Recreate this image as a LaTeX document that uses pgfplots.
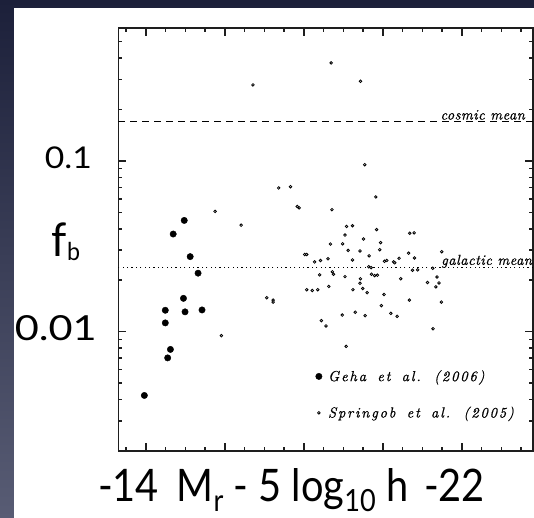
\documentclass[border=0pt]{standalone}
\usepackage{fontspec}
\usepackage{graphicx}
\usepackage{pgfplots}
\usepackage{pgfplotstable}
\pgfplotsset{compat=1.18}
\newfontfamily\gill{Lato}
\newfontfamily\smit{lmroman10-italic.otf}[LetterSpace=12,WordSpace=1.6,FakeBold=0.6]
\newfontfamily\smlab{lmroman10-italic.otf}[LetterSpace=3,FakeBold=0.6]
\definecolor{bgtop}{RGB}{28,32,58}
\definecolor{bgbot}{RGB}{88,92,116}
\definecolor{framecol}{RGB}{30,30,30}

\pgfplotstableread{
x y
-14.97 0.0448
-14.69 0.0373
-15.12 0.0275
-15.32 0.0220
-14.95 0.01567
-14.49 0.01334
-14.99 0.01306
-15.42 0.0134
-14.49 0.01125
-14.62 0.00787
-14.55 0.00702
-13.96 0.00423
}\geha

\pgfplotstableread{
x y
-16.71 0.2786
-18.69 0.3747
-19.43 0.2926
-19.54 0.0950
-17.36 0.0694
-17.66 0.0706
-17.83 0.0541
-17.88 0.0531
-19.82 0.0615
-18.71 0.0518
-15.75 0.0506
-16.41 0.0420
-19.08 0.0413
-19.23 0.0417
-19.84 0.0396
-19.04 0.0368
-19.51 0.0349
-18.67 0.0326
-18.98 0.0327
-19.94 0.0332
-19.12 0.0299
-19.42 0.0297
-19.92 0.0302
-18.02 0.0283
-18.07 0.0283
-19.65 0.0278
-18.61 0.0267
-18.42 0.0261
-18.27 0.0256
-19.23 0.0263
-20.04 0.0258
-20.10 0.0261
-20.27 0.0256
-20.30 0.0253
-20.41 0.0269
-19.64 0.0240
-19.70 0.0237
-18.40 0.0215
-18.72 0.0224
-18.75 0.0217
-19.04 0.0210
-19.43 0.0204
-19.71 0.0217
-19.79 0.0213
-19.86 0.0214
-19.42 0.0192
-20.45 0.0204
-18.63 0.0184
-20.68 0.0377
-20.79 0.0379
-20.65 0.0288
-20.80 0.0270
-20.75 0.0229
-20.88 0.0230
-21.26 0.0235
-21.49 0.0294
-21.13 0.0194
-21.37 0.0209
-21.42 0.0193
-21.34 0.0183
-18.07 0.0176
-18.21 0.0174
-18.35 0.0176
-19.24 0.0176
-19.49 0.0179
-19.60 0.0169
-20.03 0.0165
-20.67 0.0153
-21.48 0.0149
-19.96 0.0142
-18.97 0.0125
-19.30 0.0130
-19.55 0.0124
-20.20 0.0128
-20.36 0.0123
-18.44 0.0116
-18.56 0.0108
-21.27 0.0104
-19.07 0.0082
-15.91 0.00947
-17.06 0.0158
-17.22 0.0153
-17.22 0.0149
}\springob

\begin{document}
\begin{tikzpicture}
\useasboundingbox (0,0) rectangle (534bp,518bp);
\shade[top color=bgtop, bottom color=bgbot] (0,0) rectangle (534bp,518bp);
\fill[white] (14bp,0) rectangle (534bp,510bp);
\begin{axis}[
  at={(118.3bp,67bp)}, anchor=south west,
  scale only axis, width=414.7bp, height=423bp,
  xmin=-23.8, xmax=-13.3, x dir=reverse,
  ymode=log, ymin=0.002, ymax=0.6,
  xtick={-22,-20,-18,-16,-14},
  minor xtick={-23.5,-23,-22.5,-21.5,-21,-20.5,-19.5,-19,-18.5,-17.5,-17,-16.5,-15.5,-15,-14.5,-13.5},
  xticklabels={},
  ytick={0.01,0.1},
  minor ytick={0.002,0.003,0.004,0.005,0.006,0.007,0.008,0.009,0.02,0.03,0.04,0.05,0.06,0.07,0.08,0.09,0.2,0.3,0.4,0.5,0.6},
  yticklabels={{\resizebox{82bp}{25bp}{\gill 0.01}},{\resizebox{47bp}{21.7bp}{\gill 0.1}\hspace*{5bp}}},
  yticklabel style={anchor=east, inner sep=0pt, xshift=-21.3bp, yshift=3.5bp},
  tick align=inside,
  xtick pos=both, ytick pos=both,
  major tick length=8bp, minor tick length=4bp,
  axis line style={framecol, line width=1.2bp},
  tick style={framecol, line width=1.5bp},
  every axis x label/.style={at={(axis description cs:0.4177,-0.1199)}, anchor=base, inner sep=0pt},
  every axis y label/.style={at={(axis description cs:-0.1606,0.4593)}, anchor=base west, inner sep=0pt},
  xlabel={\resizebox{387bp}{33bp}{\gill\fontsize{44}{44}\selectfont -14\hspace{0.45em}M\raisebox{-10bp}{\fontsize{30}{30}\selectfont r}\ - 5 log\raisebox{-10bp}{\fontsize{30}{30}\selectfont 10}\ h\hspace{0.4em}-22}},
  ylabel={\resizebox{28.3bp}{33.7bp}{\gill\fontsize{45}{45}\selectfont f\raisebox{-3.5bp}{\fontsize{24}{24}\selectfont b}}},
  legend style={draw=none, fill=none, at={(axis description cs:0.4755,0.1962)}, anchor=north west,
    inner sep=0pt, row sep=20bp, column sep=4bp,
    font=\smit\fontsize{14.6}{14.6}\selectfont},
  legend cell align=left,
  legend image code/.code={\draw[#1] plot coordinates {(0bp,0bp)};},
]
\addplot[black, dash pattern=on 7bp off 5bp, line width=1bp, forget plot] coordinates {(-23.8,0.17) (-13.3,0.17)};
\addplot[black, dash pattern=on 1.2bp off 3.2bp, line width=1.1bp, forget plot] coordinates {(-23.8,0.02364) (-13.3,0.02364)};
\node[anchor=base east, inner sep=0pt, font=\smlab\fontsize{14.5}{14.5}\selectfont] at (axis cs:-23.6,0.17) {\raisebox{2bp}{cosmic mean}};
\node[anchor=base east, inner sep=0pt, font=\smlab\fontsize{14.5}{14.5}\selectfont] at (axis cs:-23.78,0.02364) {\raisebox{3bp}{galactic mean}};
\addplot[only marks, mark=*, mark size=3.2bp, mark options={fill=black, draw=black}] table[x=x,y=y] {\geha};
\addlegendentry{Geha et al. (2006)}
\addplot[only marks, mark=*, mark size=1.3bp, mark options={fill=white, draw=black, line width=0.8bp}] table[x=x,y=y] {\springob};
\addlegendentry{Springob et al. (2005)}
\end{axis}
\end{tikzpicture}
\end{document}
